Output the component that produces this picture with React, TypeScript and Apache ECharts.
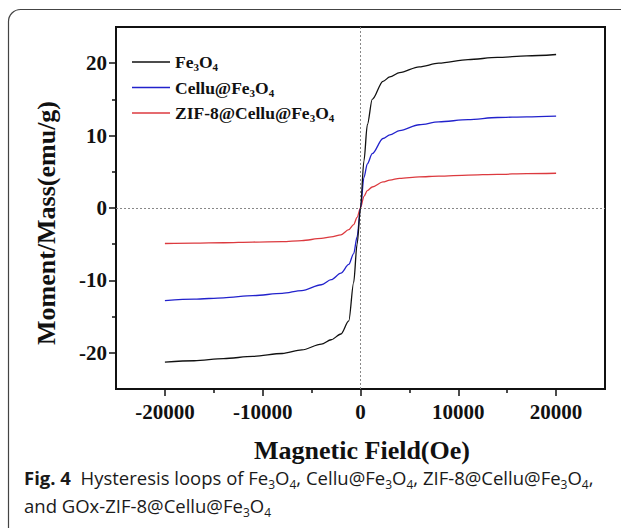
import { useEffect, useRef } from 'react';
import * as echarts from 'echarts';

const fieldOe = [-20000, -17000, -14000, -11000, -8000, -6000, -4000, -3000, -2000, -1200, -700, -350, 0, 350, 700, 1200, 2300, 3000, 4000, 6000, 8000, 11000, 14000, 17000, 20000];
const fe3o4 = [-21.3, -21.1, -20.8, -20.5, -20.1, -19.6, -18.8, -18.2, -17.4, -15.6, -10.3, -5.0, 0, 6.5, 11.5, 15.0, 17.5, 18.1, 18.7, 19.5, 20.0, 20.5, 20.8, 21.0, 21.2];
const celluFe3o4 = [-12.8, -12.6, -12.4, -12.1, -11.8, -11.4, -10.6, -9.9, -9.0, -7.8, -6.3, -4.0, 0, 4.2, 6.1, 7.5, 9.6, 10.1, 10.7, 11.5, 11.9, 12.2, 12.5, 12.6, 12.7];
const zifCelluFe3o4 = [-4.9, -4.85, -4.8, -4.7, -4.65, -4.5, -4.2, -4.0, -3.7, -3.0, -2.3, -1.3, 0, 1.6, 2.4, 2.9, 3.6, 3.85, 4.1, 4.3, 4.4, 4.55, 4.65, 4.75, 4.8];

const seriesNames = ['Fe3O4', 'Cellu@Fe3O4', 'ZIF-8@Cellu@Fe3O4'];
const seriesValues = [fe3o4, celluFe3o4, zifCelluFe3o4];
const seriesColors = ['#111111', '#2222cc', '#dc3a3f'];

const xMajorTicks = [-20000, -10000, 0, 10000, 20000];
const xMinorTicks = [-15000, -5000, 5000, 15000];
const yMajorTicks = [-20, -10, 0, 10, 20];
const yMinorTicks = [-15, -5, 5, 15];

const xTitle = 'Magnetic Field(Oe)';
const yTitle = 'Moment/Mass(emu/g)';

const legendRich: Record<string, string> = {
  'Fe3O4': '{m|Fe}{s|3}{m|O}{s|4}',
  'Cellu@Fe3O4': '{m|Cellu@Fe}{s|3}{m|O}{s|4}',
  'ZIF-8@Cellu@Fe3O4': '{m|ZIF-8@Cellu@Fe}{s|3}{m|O}{s|4}',
};

const captionLine1 = '{b|Fig. 4}{r|  Hysteresis loops of Fe}{s|3}{r|O}{s|4}{r|, Cellu@Fe}{s|3}{r|O}{s|4}{r|, ZIF-8@Cellu@Fe}{s|3}{r|O}{s|4}{r|,}';
const captionLine2 = '{r|and GOx-ZIF-8@Cellu@Fe}{s|3}{r|O}{s|4}';

const SERIF = '"Liberation Serif", "Times New Roman", serif';
const SANS = '"Open Sans", "Noto Sans", sans-serif';

export default function App() {
  const ref = useRef<HTMLDivElement>(null);
  useEffect(() => {
    if (!ref.current) return;
    const chart = echarts.init(ref.current, null, { renderer: 'svg' });
    const axisBase = (min: number, max: number) => ({
      type: 'value' as const,
      min,
      max,
      splitLine: { show: false },
    });
    const captionRich = {
      b: { fontFamily: SANS, fontSize: 18.5, fontWeight: 'bold', fill: '#1a1a1a', lineHeight: 26, verticalAlign: 'middle' },
      r: { fontFamily: SANS, fontSize: 18.5, fill: '#1a1a1a', lineHeight: 26, verticalAlign: 'middle' },
      s: { fontFamily: SANS, fontSize: 12, fill: '#1a1a1a', lineHeight: 26, verticalAlign: 'bottom' },
    };
    chart.setOption({
      animation: false,
      backgroundColor: '#ffffff',
      grid: {
        left: 116,
        right: 16,
        top: 27,
        bottom: 139,
        show: true,
        borderColor: '#111',
        borderWidth: 2,
        containLabel: false,
        outerBoundsMode: 'none',
      },
      xAxis: [
        {
          ...axisBase(-25000, 25000),
          position: 'bottom',
          axisLine: { show: true, onZero: false, lineStyle: { color: '#111', width: 2 } },
          axisTick: { show: true, customValues: xMajorTicks, length: 7, lineStyle: { color: '#111', width: 1.5 } },
          axisLabel: {
            customValues: xMajorTicks,
            formatter: (v: number) => String(v),
            margin: 12,
            fontFamily: SERIF,
            fontWeight: 'bold',
            fontSize: 21,
            color: '#111',
          },
        },
        {
          ...axisBase(-25000, 25000),
          position: 'bottom',
          axisLine: { show: false, onZero: false },
          axisTick: { show: true, customValues: xMinorTicks, length: 4, lineStyle: { color: '#111', width: 1.5 } },
          axisLabel: { show: false },
        },
      ],
      yAxis: [
        {
          ...axisBase(-25, 25),
          position: 'left',
          axisLine: { show: true, onZero: false, lineStyle: { color: '#111', width: 2 } },
          axisTick: { show: true, customValues: yMajorTicks, length: 7, lineStyle: { color: '#111', width: 1.5 } },
          axisLabel: {
            customValues: yMajorTicks,
            formatter: (v: number) => String(v),
            margin: 9,
            fontFamily: SERIF,
            fontWeight: 'bold',
            fontSize: 21,
            color: '#111',
          },
        },
        {
          ...axisBase(-25, 25),
          position: 'left',
          axisLine: { show: false, onZero: false },
          axisTick: { show: true, customValues: yMinorTicks, length: 4, lineStyle: { color: '#111', width: 1.5 } },
          axisLabel: { show: false },
        },
      ],
      legend: {
        orient: 'vertical',
        left: 132,
        top: 53,
        padding: 0,
        itemWidth: 38,
        itemHeight: 1.4,
        itemGap: 6,
        icon: 'rect',
        data: seriesNames.map((name, i) => ({
          name,
          itemStyle: { color: seriesColors[i], borderWidth: 0, opacity: 1 },
        })),
        formatter: (name: string) => legendRich[name] || name,
        textStyle: {
          fontFamily: SERIF,
          fontWeight: 'bold',
          fontSize: 17,
          color: '#111',
          rich: {
            m: { fontFamily: SERIF, fontWeight: 'bold', fontSize: 17.5, color: '#111', lineHeight: 21, verticalAlign: 'middle' },
            s: { fontFamily: SERIF, fontWeight: 'bold', fontSize: 11, color: '#111', lineHeight: 21, verticalAlign: 'bottom' },
          },
        },
      },
      series: seriesNames.map((name, i) => ({
        name,
        type: 'line',
        xAxisIndex: 0,
        yAxisIndex: 0,
        data: fieldOe.map((x, j) => [x, seriesValues[i][j]]),
        showSymbol: false,
        symbol: 'none',
        smooth: 0.3,
        smoothMonotone: 'x',
        color: seriesColors[i],
        itemStyle: { color: seriesColors[i] },
        lineStyle: { color: seriesColors[i], width: 1.3 },
        z: 5 - i,
        markLine:
          i === 0
            ? {
                silent: true,
                symbol: 'none',
                label: { show: false },
                lineStyle: { type: [2, 2], color: '#888', width: 1 },
                data: [{ xAxis: 0 }, { yAxis: 0 }],
              }
            : undefined,
      })),
      graphic: [
        {
          type: 'rect',
          shape: { x: 8.5, y: 9.5, width: 700, height: 700, r: [12, 0, 0, 0] },
          style: { fill: 'none', stroke: '#444', lineWidth: 1.2 },
          silent: true,
          z: -1,
        },
        {
          type: 'text',
          x: 362,
          y: 450,
          style: {
            text: xTitle,
            fontFamily: SERIF,
            fontWeight: 'bold',
            fontSize: 26,
            fill: '#111',
            textAlign: 'center',
            textVerticalAlign: 'middle',
          },
        },
        {
          type: 'text',
          x: 46,
          y: 223,
          rotation: Math.PI / 2,
          style: {
            text: yTitle,
            fontFamily: SERIF,
            fontWeight: 'bold',
            fontSize: 26,
            fill: '#111',
            textAlign: 'center',
            textVerticalAlign: 'middle',
          },
        },
        {
          type: 'text',
          x: 24,
          y: 477,
          style: {
            text: captionLine1,
            rich: captionRich,
            textAlign: 'left',
            textVerticalAlign: 'middle',
          },
        },
        {
          type: 'text',
          x: 24,
          y: 505,
          style: {
            text: captionLine2,
            rich: captionRich,
            textAlign: 'left',
            textVerticalAlign: 'middle',
          },
        },
      ],
    });
    return () => chart.dispose();
  }, []);
  return <div ref={ref} style={{ position: 'fixed', left: 0, top: 0, width: 621, height: 528 }} />;
}
